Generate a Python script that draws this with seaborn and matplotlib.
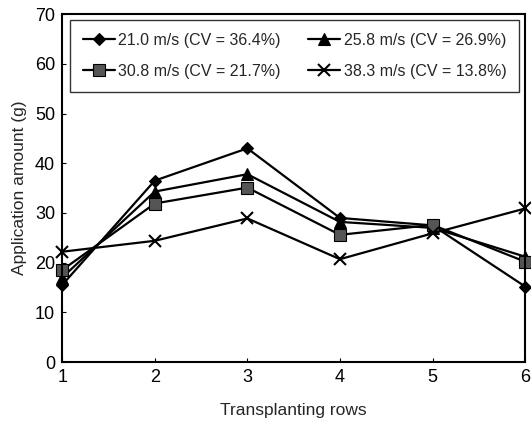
import pandas as pd
import matplotlib
matplotlib.use("Agg")
import matplotlib.pyplot as plt
import seaborn as sns

rows = [1, 2, 3, 4, 5, 6]
labels = ["21.0 m/s (CV = 36.4%)", "25.8 m/s (CV = 26.9%)",
          "30.8 m/s (CV = 21.7%)", "38.3 m/s (CV = 13.8%)"]
v21 = [15.5, 36.5, 43.0, 29.0, 27.5, 15.2]
v25 = [17.0, 34.3, 37.8, 28.2, 27.0, 21.2]
v30 = [18.5, 31.9, 35.1, 25.6, 27.6, 20.2]
v38 = [22.2, 24.4, 28.9, 20.7, 25.9, 30.9]

markers = ["D", "^", "s", "x"]
face = ["black", "black", "#555555", "black"]
sizes = [6, 8, 9, 9]

sns.set_style("ticks")
plt.rcParams["font.family"] = ["Liberation Sans", "DejaVu Sans"]

fig = plt.figure(figsize=(5.31, 4.28), dpi=100)
ax = fig.add_axes([0.117, 0.154, 0.872, 0.813])

for vals, lab, m, fc, ms in zip([v21, v25, v30, v38], labels, markers, face, sizes):
    df = pd.DataFrame({"row": rows, "amount": vals})
    sns.lineplot(x="row", y="amount", data=df, ax=ax, color="black",
                 marker=m, markersize=ms, markerfacecolor=fc,
                 markeredgecolor="black", markeredgewidth=1.5 if m == "x" else 0.8,
                 linewidth=1.6, label=lab, clip_on=False)

ax.set_xlim(1, 6)
ax.set_ylim(0, 70)
ax.set_xticks(rows)
ax.set_yticks(range(0, 71, 10))
ax.tick_params(direction="in", length=3, labelsize=13, colors="black", pad=5)
for s in ax.spines.values():
    s.set_linewidth(1.5)
    s.set_color("black")
ax.set_xlabel("Transplanting rows", fontsize=12.5, labelpad=12)
ax.set_ylabel("Application amount (g)", fontsize=12.5, labelpad=6)

# matplotlib fills legend columns first; reorder so rows read like the original
h, l = ax.get_legend_handles_labels()
order = [0, 2, 1, 3]
leg = ax.legend([h[i] for i in order], [l[i] for i in order],
                loc="upper left", ncol=2, fontsize=11.5, frameon=True,
                fancybox=False, edgecolor="black", handlelength=2.0,
                columnspacing=0.5, handletextpad=0.2, borderpad=0.8,
                labelspacing=1.0, mode="expand", borderaxespad=0,
                bbox_to_anchor=(0.017, 0.983, 0.97, 0.0))
leg.get_frame().set_linewidth(1.0)

fig.savefig("out.png", dpi=100)
